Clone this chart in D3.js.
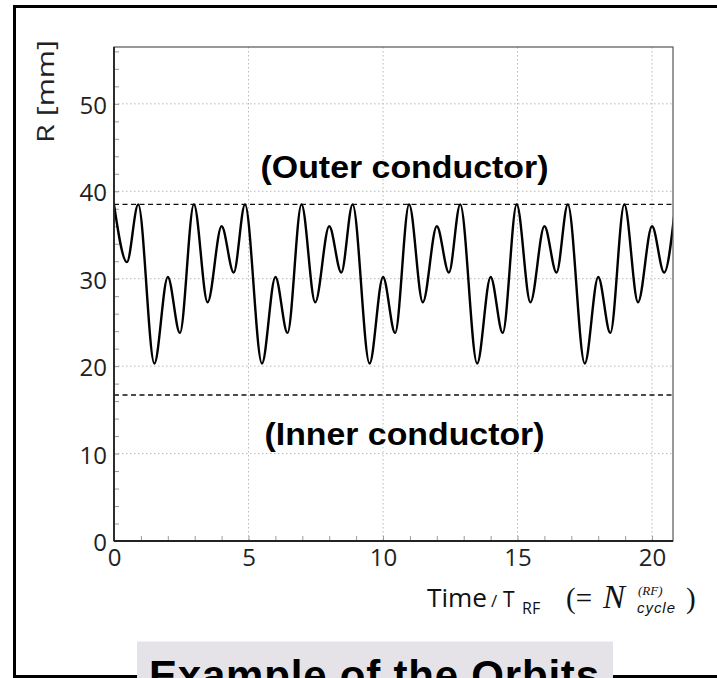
<!DOCTYPE html>
<html>
<head>
<meta charset="utf-8">
<script src="https://d3js.org/d3.v7.min.js"></script>
<style>
  body { margin: 0; background: #fff; }
  svg { display: block; }
  .tick text { font-family: "Open Sans", sans-serif; fill: #222; }
</style>
</head>
<body>
<svg id="chart" width="717" height="678"></svg>
<script>
// orbit radius vs time (at turning points)
var time = [0, 0.48, 0.9, 1.5, 2.0, 2.45, 2.97, 3.48, 4.0, 4.45, 4.87,
            5.5, 6.0, 6.45, 6.97, 7.48, 8.0, 8.45, 8.87,
            9.5, 10.0, 10.45, 10.97, 11.48, 12.0, 12.45, 12.87,
            13.5, 14.0, 14.45, 14.97, 15.48, 16.0, 16.45, 16.87,
            17.5, 18.0, 18.45, 18.97, 19.48, 20.0, 20.45, 20.87]
var radius = [38.5, 31.9, 38.5, 20.3, 30.2, 23.8, 38.5, 27.3, 36.0, 30.7, 38.5,
              20.3, 30.2, 23.8, 38.5, 27.3, 36.0, 30.7, 38.5,
              20.3, 30.2, 23.8, 38.5, 27.3, 36.0, 30.7, 38.5,
              20.3, 30.2, 23.8, 38.5, 27.3, 36.0, 30.7, 38.5,
              20.3, 30.2, 23.8, 38.5, 27.3, 36.0, 30.7, 38.5]
var xTicks = [0, 5, 10, 15, 20]
var yTicks = [0, 10, 20, 30, 40, 50]
var outerWall = 38.5
var innerWall = 16.7

var margin = { top: 47, left: 114 }
var width = 559, height = 494

var svg = d3.select("#chart")

// slide frame
svg.append("path")
  .attr("d", "M717,6.5 H14.5 V676.5 H717")
  .attr("fill", "none")
  .attr("stroke", "#000")
  .attr("stroke-width", 3)

var g = svg.append("g")
  .attr("transform", "translate(" + margin.left + "," + margin.top + ")")

var x = d3.scaleLinear().domain([0, 20.78]).range([0, width])
var y = d3.scaleLinear().domain([0, 56.5]).range([height, 0])

// dotted grid
g.selectAll(".gx").data(xTicks.slice(1)).enter().append("line")
  .attr("x1", d => x(d)).attr("x2", d => x(d))
  .attr("y1", 0).attr("y2", height)
  .attr("stroke", "#b8b8b8").attr("stroke-dasharray", "1.5,2.5")
g.selectAll(".gy").data(yTicks.slice(1)).enter().append("line")
  .attr("x1", 0).attr("x2", width)
  .attr("y1", d => y(d)).attr("y2", d => y(d))
  .attr("stroke", "#b8b8b8").attr("stroke-dasharray", "1.5,2.5")

// minor ticks
g.append("g")
  .call(d3.axisLeft(y).tickValues(d3.range(2, 57, 2)).tickSize(-5).tickFormat(""))
  .call(a => a.select(".domain").remove())
  .selectAll("line").attr("stroke", "#999")
g.append("g")
  .attr("transform", "translate(0," + height + ")")
  .call(d3.axisBottom(x).tickValues(d3.range(1, 21, 1)).tickSize(-5).tickFormat(""))
  .call(a => a.select(".domain").remove())
  .selectAll("line").attr("stroke", "#999")

// walls
g.selectAll(".wall").data([outerWall, innerWall]).enter().append("line")
  .attr("x1", 0).attr("x2", width)
  .attr("y1", d => y(d)).attr("y2", d => y(d))
  .attr("stroke", "#111").attr("stroke-width", 1.3).attr("stroke-dasharray", "5,3.5")

// orbit
g.append("clipPath").attr("id", "clip")
  .append("rect").attr("width", width).attr("height", height)
var line = d3.line()
  .x((d, i) => x(time[i]))
  .y(d => y(d))
  .curve(d3.curveMonotoneX)
g.append("path")
  .datum(radius)
  .attr("clip-path", "url(#clip)")
  .attr("fill", "none")
  .attr("stroke", "#000")
  .attr("stroke-width", 2.4)
  .attr("d", line)

// frame
g.append("rect")
  .attr("width", width).attr("height", height)
  .attr("fill", "none").attr("stroke", "#555").attr("stroke-width", 1.2)
g.append("line").attr("x1", 0).attr("x2", 0).attr("y1", 0).attr("y2", height)
  .attr("stroke", "#222").attr("stroke-width", 1.8)
g.append("line").attr("x1", 0).attr("x2", width).attr("y1", height).attr("y2", height)
  .attr("stroke", "#222").attr("stroke-width", 1.8)

// axes labels
g.append("g")
  .call(d3.axisLeft(y).tickValues(yTicks).tickSize(0).tickPadding(7))
  .call(a => a.select(".domain").remove())
  .selectAll("text").attr("font-size", 24).attr("dy", "0.4em")
g.append("g")
  .attr("transform", "translate(0," + height + ")")
  .call(d3.axisBottom(x).tickValues(xTicks).tickSize(0).tickPadding(8))
  .call(a => a.select(".domain").remove())
  .selectAll("text").attr("font-size", 24)

// wall names
g.append("text")
  .attr("x", x(10.8)).attr("y", 131)
  .attr("text-anchor", "middle")
  .attr("font-family", "Liberation Sans, Arial, sans-serif")
  .attr("font-weight", "bold").attr("font-size", 31)
  .attr("textLength", 288).attr("lengthAdjust", "spacingAndGlyphs")
  .text("(Outer conductor)")
g.append("text")
  .attr("x", x(10.8)).attr("y", 398)
  .attr("text-anchor", "middle")
  .attr("font-family", "Liberation Sans, Arial, sans-serif")
  .attr("font-weight", "bold").attr("font-size", 31)
  .attr("textLength", 280).attr("lengthAdjust", "spacingAndGlyphs")
  .text("(Inner conductor)")

// y title
svg.append("text")
  .attr("transform", "translate(54,143) rotate(-90)")
  .attr("font-family", "Open Sans, sans-serif")
  .attr("font-size", 24).attr("fill", "#222")
  .attr("textLength", 103).attr("lengthAdjust", "spacingAndGlyphs")
  .text("R  [mm]")

// x title
var xt = svg.append("g").attr("fill", "#111")
xt.append("text").attr("x", 427).attr("y", 607)
  .attr("font-family", "Open Sans, sans-serif").attr("font-size", 26)
  .attr("textLength", 60).attr("lengthAdjust", "spacingAndGlyphs")
  .text("Time")
xt.append("text").attr("x", 491).attr("y", 607)
  .attr("font-family", "Open Sans, sans-serif").attr("font-size", 17)
  .text("/")
xt.append("text").attr("x", 503).attr("y", 607)
  .attr("font-family", "Open Sans, sans-serif").attr("font-size", 21)
  .text("T")
xt.append("text").attr("x", 522).attr("y", 614)
  .attr("font-family", "Open Sans, sans-serif").attr("font-size", 16)
  .text("RF")
xt.append("text").attr("x", 566).attr("y", 608)
  .attr("font-family", "Liberation Serif, serif").attr("font-size", 29)
  .text("(=")
xt.append("text").attr("x", 603).attr("y", 608)
  .attr("font-family", "Liberation Serif, serif").attr("font-style", "italic").attr("font-size", 33)
  .text("N")
xt.append("text").attr("x", 638).attr("y", 595)
  .attr("font-family", "Liberation Serif, serif").attr("font-style", "italic").attr("font-size", 13)
  .text("(RF)")
xt.append("text").attr("x", 637).attr("y", 613)
  .attr("font-family", "Liberation Sans, Arial, sans-serif").attr("font-style", "italic").attr("font-size", 15)
  .attr("textLength", 38)
  .text("cycle")
xt.append("text").attr("x", 686).attr("y", 608)
  .attr("font-family", "Liberation Serif, serif").attr("font-size", 29)
  .text(")")

// caption box
svg.append("rect")
  .attr("x", 137).attr("y", 641.5).attr("width", 476).attr("height", 40)
  .attr("fill", "#e6e3e8")
svg.append("text")
  .attr("x", 149).attr("y", 690)
  .attr("font-family", "Liberation Sans, Arial, sans-serif")
  .attr("font-weight", "bold").attr("font-size", 42)
  .attr("textLength", 450)
  .text("Example of the Orbits")
</script>
</body>
</html>
